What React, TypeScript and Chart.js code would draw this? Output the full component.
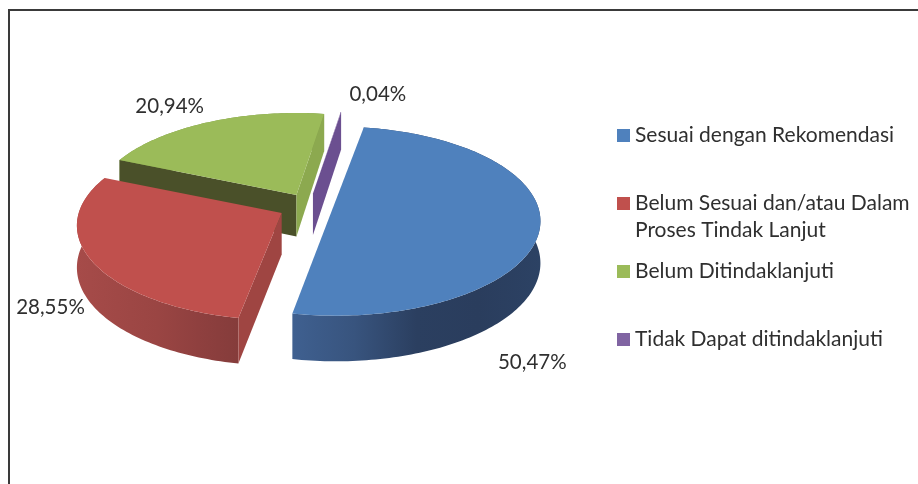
import React, { useEffect, useRef } from "react";
import { Chart, registerables } from "chart.js";

Chart.register(...registerables);

const categories = [
  "Sesuai dengan Rekomendasi",
  "Belum Sesuai dan/atau Dalam|Proses Tindak Lanjut",
  "Belum Ditindaklanjuti",
  "Tidak Dapat ditindaklanjuti",
];
const percentages = [50.47, 28.55, 20.94, 0.04];
const percentLabels = ["50,47%", "28,55%", "20,94%", "0,04%"];
const topColors = ["#4f81bd", "#c0504d", "#9bbb59", "#8064a2"];
const explode = [21, 33, 33, 26];
const sliceShift = [
  [3, 2],
  [-1, 1],
  [0, 3],
  [-3, 0],
];
const wallStops = [
  ["#3f6090", "#38547e", "#2b3f60", "#2a3d5d", "#2c4264"],
  ["#a64b49", "#a04846", "#9a4543", "#8f403f", "#853c3b"],
  ["#7e9a49", "#7e9a49"],
  ["#65498a", "#65498a"],
];
const startFaceColors = ["#3f6090", "#9f4542", "#4a5029", "#65498a"];
const endFaceColors = ["#3f6090", "#9f4542", "#8ca94f", "#6b4f90"];
const labelNudges = [
  [-8, 137],
  [-40, 48],
  [-39, -16],
  [37, -18],
];
const drawOrder = [2, 3, 1, 0];

const RX = 203;
const RY = 92.9;
const PERSPECTIVE = 0.132;
const DEPTH = 41.5;
const BODY_FONT = "21px Lato";
const LABEL_FONT = "20.5px Lato";

const proj = (u: number, v: number) => {
  const p = 1 / (1 - PERSPECTIVE * v);
  return [RX * u * p, RY * v * p];
};

function geometry(arc: any, i: number) {
  const a0 = arc.startAngle + Math.PI / 2;
  const a1 = arc.endAngle + Math.PI / 2;
  const mid = (a0 + a1) / 2;
  const k = arc.options.offset / 204;
  const off = proj(k * Math.sin(mid), -k * Math.cos(mid));
  const cx = arc.x + off[0] + sliceShift[i][0];
  const cy = arc.y + off[1] + sliceShift[i][1];
  return { a0, a1, mid, cx, cy };
}

const pie3d = {
  id: "pie3d",
  beforeDatasetsDraw(chart: any) {
    const { ctx } = chart;
    const arcs = chart.getDatasetMeta(0).data;
    ctx.save();
    drawOrder.forEach((i) => {
      const arc = arcs[i];
      const { a0, a1, mid, cx, cy } = geometry(arc, i);
      const rim = (a: number) => {
        const u = Math.sin(a);
        const v = -Math.cos(a);
        const q = proj(u, v);
        return { x: cx + q[0], y: cy + q[1], d: DEPTH * (1 + 0.1 * v) };
      };
      const steps = Math.max(2, Math.ceil((a1 - a0) / 0.02));
      const pts: any[] = [];
      for (let s = 0; s <= steps; s++) pts.push(rim(a0 + ((a1 - a0) * s) / steps));

      const xs = pts.map((p) => p.x);
      const minX = Math.min(...xs);
      const maxX = Math.max(...xs);
      const grad = ctx.createLinearGradient(minX, 0, maxX + 0.01, 0);
      const stops = wallStops[i];
      stops.forEach((c, k) => grad.addColorStop(k / (stops.length - 1), c));
      ctx.fillStyle = grad;
      ctx.beginPath();
      pts.forEach((p, k) => (k ? ctx.lineTo(p.x, p.y) : ctx.moveTo(p.x, p.y)));
      for (let k = pts.length - 1; k >= 0; k--) ctx.lineTo(pts[k].x, pts[k].y + pts[k].d);
      ctx.closePath();
      ctx.fill();

      const inner = proj(Math.sin(mid) * 0.5, -Math.cos(mid) * 0.5);
      const face = (p: any, color: string) => {
        const slope = (p.y - cy) / (p.x - cx || 1e-6);
        const lineY = cy + slope * inner[0];
        if (cy + inner[1] < lineY) {
          ctx.fillStyle = color;
          ctx.beginPath();
          ctx.moveTo(cx, cy);
          ctx.lineTo(p.x, p.y);
          ctx.lineTo(p.x, p.y + p.d);
          ctx.lineTo(cx, cy + DEPTH);
          ctx.closePath();
          ctx.fill();
        }
      };
      face(pts[0], startFaceColors[i]);
      face(pts[pts.length - 1], endFaceColors[i]);

      ctx.fillStyle = arc.options.backgroundColor;
      ctx.beginPath();
      // a slice of about half the pie keeps a straight cut edge
      if (a1 - a0 < Math.PI) ctx.moveTo(cx, cy);
      pts.forEach((p) => ctx.lineTo(p.x, p.y));
      ctx.closePath();
      ctx.fill();
    });
    ctx.restore();
    return false;
  },
  afterDraw(chart: any) {
    const { ctx } = chart;
    const arcs = chart.getDatasetMeta(0).data;
    ctx.save();
    // frame
    ctx.fillStyle = "#3a3a3a";
    ctx.fillRect(8, 9, 910, 2);
    ctx.fillRect(8, 9, 2, 475);

    ctx.font = LABEL_FONT;
    ctx.fillStyle = "#2f2f2f";
    ctx.textBaseline = "middle";

    // data labels
    ctx.textAlign = "center";
    arcs.forEach((arc: any, i: number) => {
      const { mid, cx, cy } = geometry(arc, i);
      const q = proj(Math.sin(mid), -Math.cos(mid));
      ctx.fillText(
        percentLabels[i],
        cx + q[0] + labelNudges[i][0],
        cy + q[1] + labelNudges[i][1]
      );
    });

    // legend
    ctx.font = BODY_FONT;
    ctx.textAlign = "left";
    chart.data.labels.forEach((label: string, i: number) => {
      const y = 135.5 + i * 68;
      ctx.fillStyle = chart.data.datasets[0].backgroundColor[i];
      ctx.fillRect(617, y - 6.5, 13, 13);
      ctx.fillStyle = "#2f2f2f";
      label.split("|").forEach((line, l) => ctx.fillText(line, 635, y + l * 27));
    });
    ctx.restore();
  },
};

export default function App() {
  const ref = useRef<HTMLCanvasElement>(null);
  useEffect(() => {
    document.body.style.margin = "0";
    const chart = new Chart(ref.current as HTMLCanvasElement, {
      type: "pie",
      data: {
        labels: categories,
        datasets: [
          {
            data: percentages,
            backgroundColor: topColors,
            offset: explode,
            borderWidth: 0,
          },
        ],
      },
      options: {
        responsive: false,
        animation: false,
        rotation: 9,
        layout: { padding: { left: 108, right: 402, top: 1, bottom: 75 } },
        plugins: {
          legend: { display: false },
          tooltip: { enabled: false },
        },
      },
      plugins: [pie3d],
    } as any);
    return () => chart.destroy();
  }, []);
  return (
    <canvas
      ref={ref}
      width={918}
      height={484}
      style={{ display: "block", width: 918, height: 484 }}
    />
  );
}
